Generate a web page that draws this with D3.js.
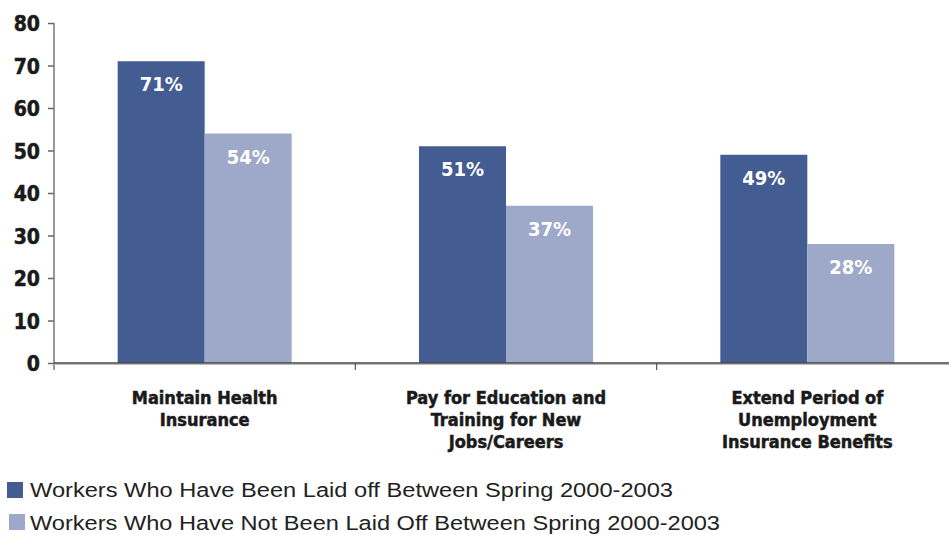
<!DOCTYPE html>
<html>
<head>
<meta charset="utf-8">
<script src="https://cdn.jsdelivr.net/npm/d3@7"></script>
<style>
  html, body { margin: 0; padding: 0; background: #fff; }
  svg { display: block; }
  .cond { font-family: "Liberation Sans Narrow", "DejaVu Sans Condensed", "Arial Narrow", sans-serif; font-weight: bold; }
  .heavy { stroke: currentColor; stroke-width: 0.5px; }
</style>
</head>
<body>
<svg id="chart" width="949" height="535"></svg>
<script>
// Reasons for support, by layoff status
const categories = [
  ["Maintain Health", "Insurance"],
  ["Pay for Education and", "Training for New", "Jobs/Careers"],
  ["Extend Period of", "Unemployment", "Insurance Benefits"]
];
const seriesNames = [
  "Workers Who Have Been Laid off Between Spring 2000-2003",
  "Workers Who Have Not Been Laid Off Between Spring 2000-2003"
];
const laidOff = [71, 51, 49];
const notLaidOff = [54, 37, 28];
const yTicks = [0, 10, 20, 30, 40, 50, 60, 70, 80];
const colors = ["#435c92", "#9ea9ca"];

const svg = d3.select("#chart");
const x0 = 54, x1 = 958, yTop = 23, yBase = 363;

const catIdx = categories.map((_, i) => i);
const x = d3.scaleBand().domain(catIdx).range([x0, x1]).paddingInner(0).paddingOuter(0);
const y = d3.scaleLinear().domain([0, 80]).range([yBase, yTop]);
const barW = 87;
const xs = d3.scaleBand().domain([0, 1]).range([0, barW * 2]);

// y axis
const yAxis = svg.append("g").attr("transform", `translate(${x0},0)`)
  .call(d3.axisLeft(y).tickValues(yTicks).tickSize(6).tickPadding(8).tickFormat(d3.format("d")));
yAxis.select(".domain").remove();
yAxis.selectAll(".tick line").attr("stroke", "#666").attr("stroke-width", 1.5);
yAxis.selectAll(".tick text")
  .attr("class", "cond heavy")
  .attr("fill", "#1a1a1a")
  .style("color", "#1a1a1a")
  .style("font-size", "21px")
  .attr("dy", "0.36em");
svg.append("line").attr("x1", x0).attr("x2", x0).attr("y1", yTop).attr("y2", yBase + 7)
  .attr("stroke", "#777").attr("stroke-width", 1.5);

// bars
const series = [laidOff, notLaidOff];
const groups = svg.append("g");
series.forEach((vals, s) => {
  groups.selectAll(null).data(vals).enter().append("rect")
    .attr("x", (d, i) => x(i) + x.bandwidth() / 2 - barW + xs(s))
    .attr("width", barW)
    .attr("y", d => y(d))
    .attr("height", d => y(0) - y(d))
    .attr("fill", colors[s]);
  groups.selectAll(null).data(vals).enter().append("text")
    .attr("class", "cond")
    .attr("x", (d, i) => x(i) + x.bandwidth() / 2 - barW + xs(s) + barW / 2)
    .attr("y", d => y(d) + 30)
    .attr("text-anchor", "middle")
    .attr("fill", "#fff")
    .style("font-size", "20px")
    .text(d => d + "%");
});

// baseline
svg.append("line").attr("x1", x0).attr("x2", 949).attr("y1", yBase + 1.5).attr("y2", yBase + 1.5)
  .attr("stroke", "#bbb").attr("stroke-width", 1);
svg.append("line").attr("x1", x0).attr("x2", 949).attr("y1", yBase).attr("y2", yBase)
  .attr("stroke", "#444").attr("stroke-width", 1.5);
// category separators
catIdx.slice(1).forEach(i => {
  svg.append("line").attr("x1", x(i)).attr("x2", x(i)).attr("y1", yBase).attr("y2", yBase + 7)
    .attr("stroke", "#555").attr("stroke-width", 1.2);
});

// category labels
catIdx.forEach(i => {
  const t = svg.append("text").attr("class", "cond heavy")
    .attr("text-anchor", "middle").attr("fill", "#1a1a1a")
    .style("color", "#1a1a1a").style("font-size", "18px");
  categories[i].forEach((line, k) => {
    t.append("tspan").attr("x", x(i) + x.bandwidth() / 2).attr("y", 404 + k * 22).text(line);
  });
});

// legend
const legend = svg.append("g");
[[7, 482], [9, 514]].forEach(([lx, ly], s) => {
  legend.append("rect").attr("x", lx).attr("y", ly).attr("width", 16).attr("height", 16).attr("fill", colors[s]);
  legend.append("text")
    .attr("x", 30).attr("y", ly + 15 + (s ? 1 : 0))
    .attr("fill", "#222")
    .style("font-family", "'Liberation Sans', Arial, sans-serif")
    .style("font-size", "20px")
    .attr("textLength", s ? 690 : 643)
    .attr("lengthAdjust", "spacingAndGlyphs")
    .text(seriesNames[s]);
});
</script>
</body>
</html>
